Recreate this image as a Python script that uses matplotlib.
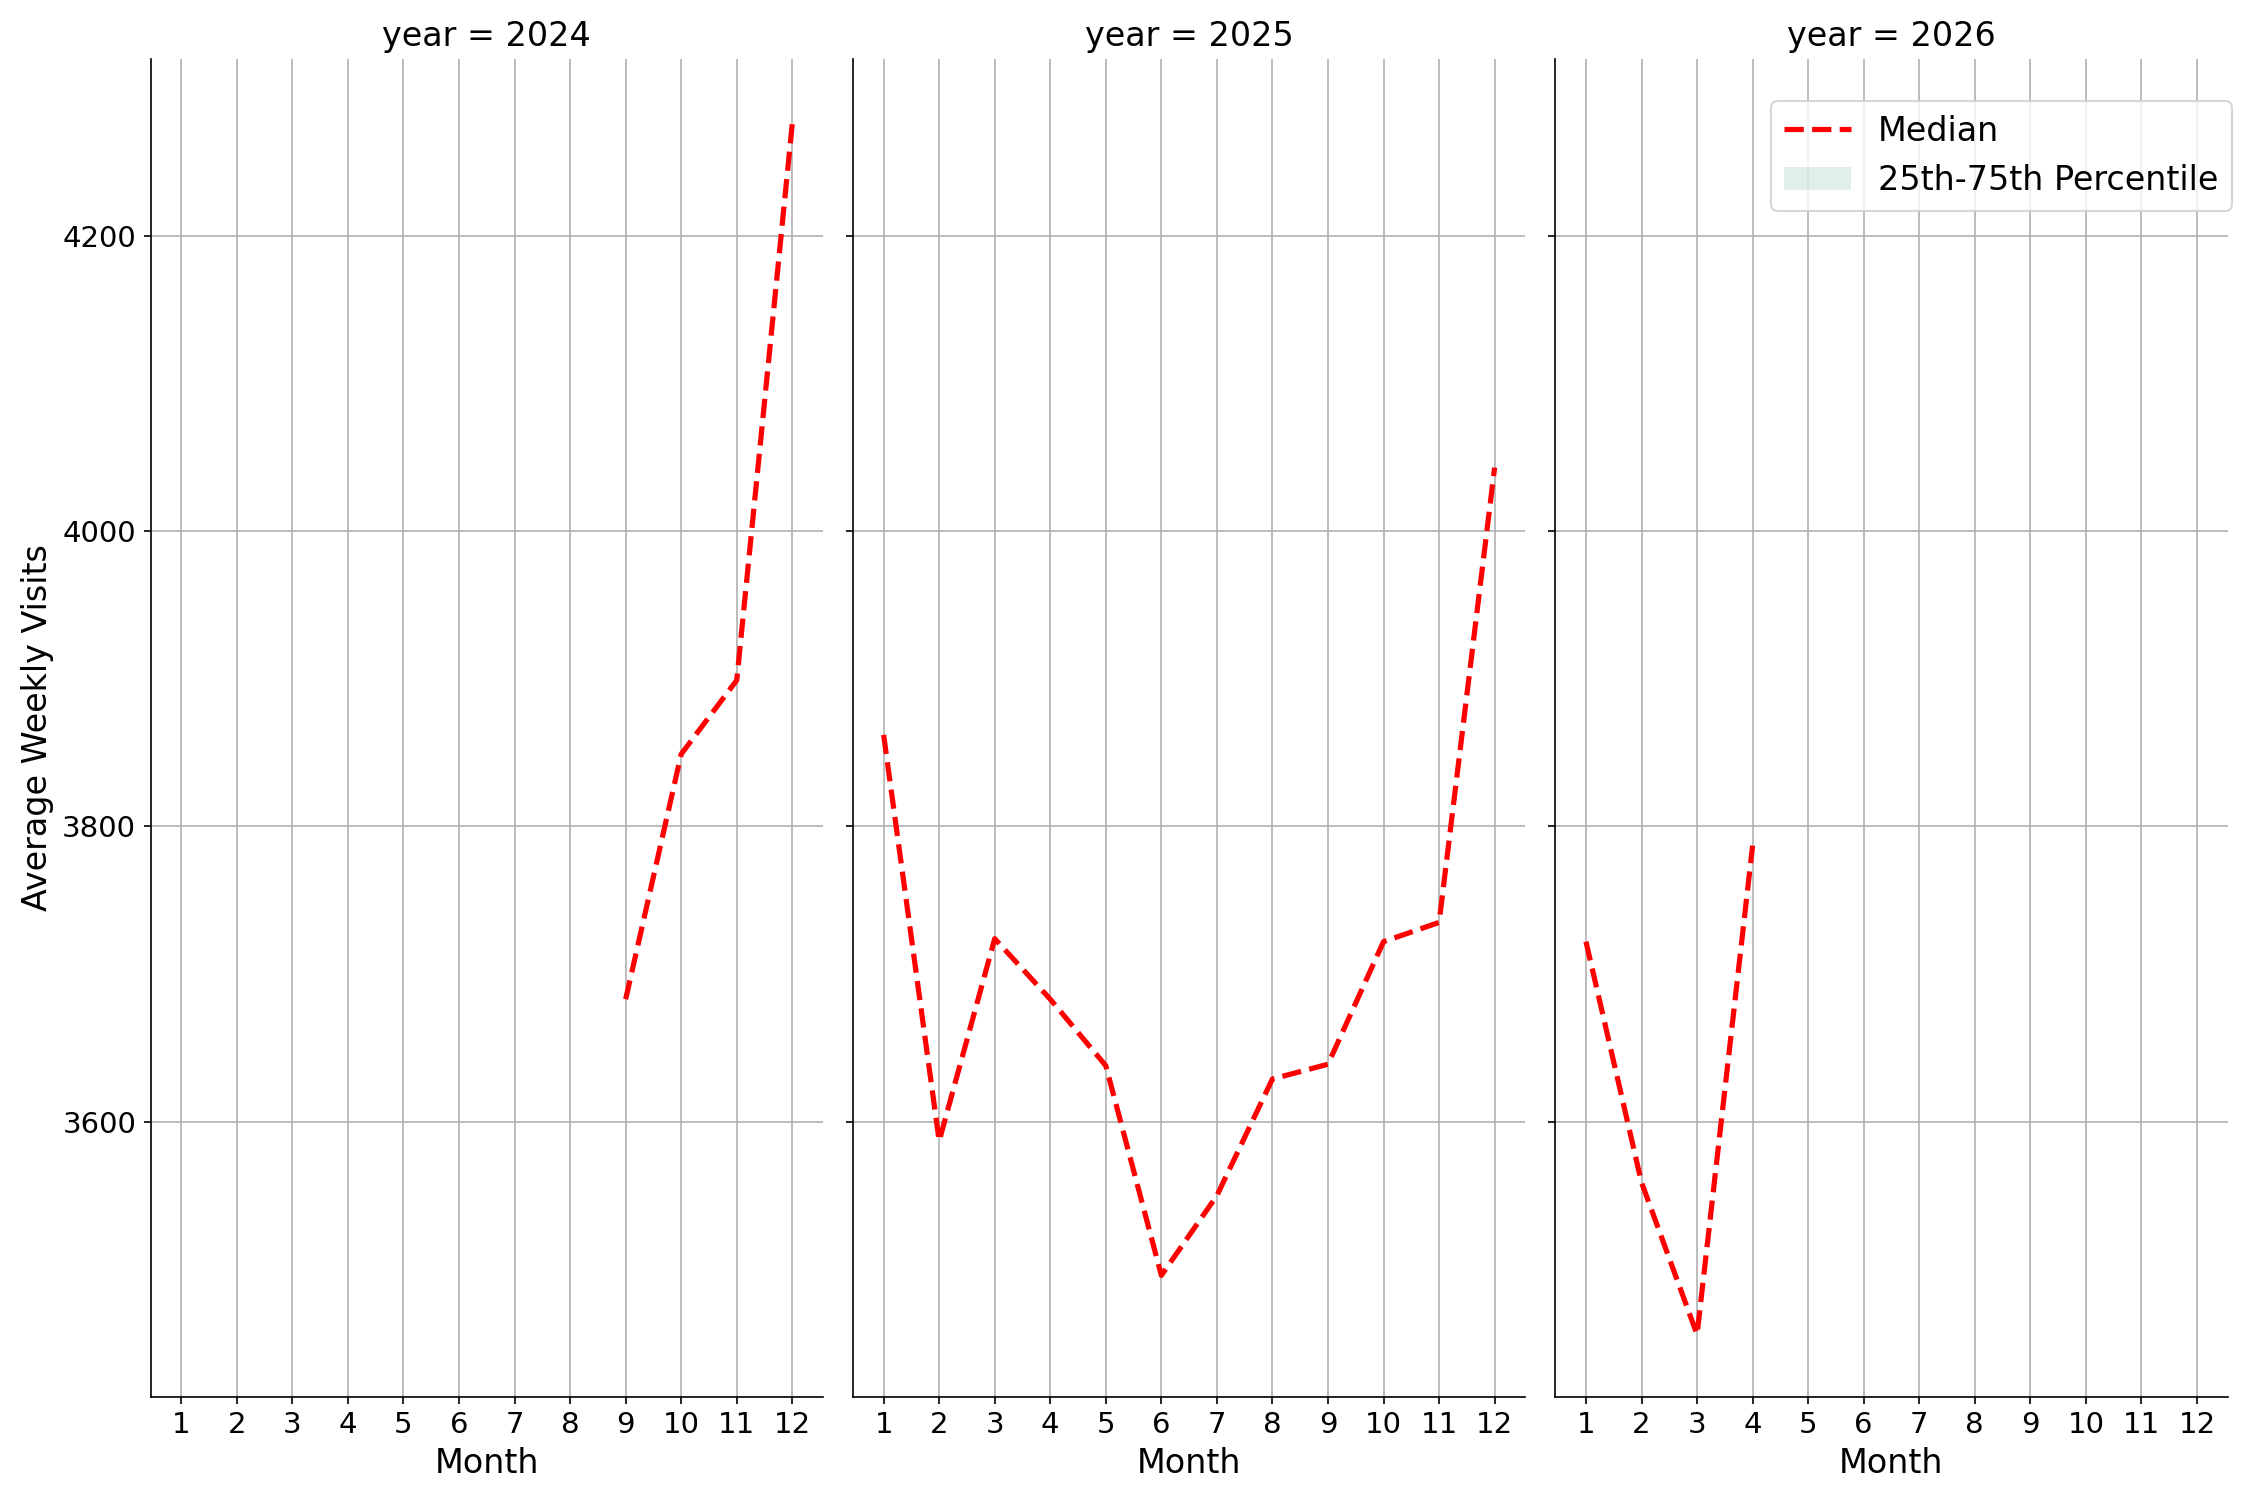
import matplotlib
matplotlib.use('Agg')
import matplotlib.pyplot as plt

# monthly median of average weekly visits, per year
years = [2024, 2025, 2026]

months_2024 = [9, 10, 11, 12]
median_2024 = [3683, 3849, 3899, 4276]

months_2025 = [1, 2, 3, 4, 5, 6, 7, 8, 9, 10, 11, 12]
median_2025 = [3862, 3587, 3724, 3683, 3638, 3496, 3550, 3629, 3639, 3722, 3735, 4043]

months_2026 = [1, 2, 3, 4]
median_2026 = [3722, 3559, 3456, 3787]

# only one value per month, so the quartile band collapses onto the median
q25_2024, q75_2024 = median_2024, median_2024
q25_2025, q75_2025 = median_2025, median_2025
q25_2026, q75_2026 = median_2026, median_2026

month_ticks = list(range(1, 13))

panels = [
    (months_2024, median_2024, q25_2024, q75_2024),
    (months_2025, median_2025, q25_2025, q75_2025),
    (months_2026, median_2026, q25_2026, q75_2026),
]

fig, axes = plt.subplots(1, 3, figsize=(15, 10), sharex=True, sharey=True)

for ax, year, (m, med, lo, hi) in zip(axes, years, panels):
    ax.fill_between(m, lo, hi, color='#69b3a2', alpha=0.2, linewidth=0,
                    label='25th-75th Percentile')
    ax.plot(m, med, color='red', linestyle='--', linewidth=2.5, label='Median')
    ax.set_title('year = %d' % year, fontsize=16)
    ax.set_xlabel('Month', fontsize=16)
    ax.set_xticks(month_ticks)
    ax.tick_params(labelsize=14)
    ax.grid(True)
    ax.spines['top'].set_visible(False)
    ax.spines['right'].set_visible(False)

axes[0].set_ylabel('Average Weekly Visits', fontsize=16)
axes[0].set_yticks([3600, 3800, 4000, 4200])
axes[0].set_ylim(3414, 4320)

h, l = axes[2].get_legend_handles_labels()
axes[2].legend(h[::-1], l[::-1], loc='upper right', fontsize=16,
               bbox_to_anchor=(1.006, 0.968), borderaxespad=0)

plt.subplots_adjust(left=0.067, right=0.99, top=0.961, bottom=0.069, wspace=0.045)
plt.savefig('out.png', dpi=150)
